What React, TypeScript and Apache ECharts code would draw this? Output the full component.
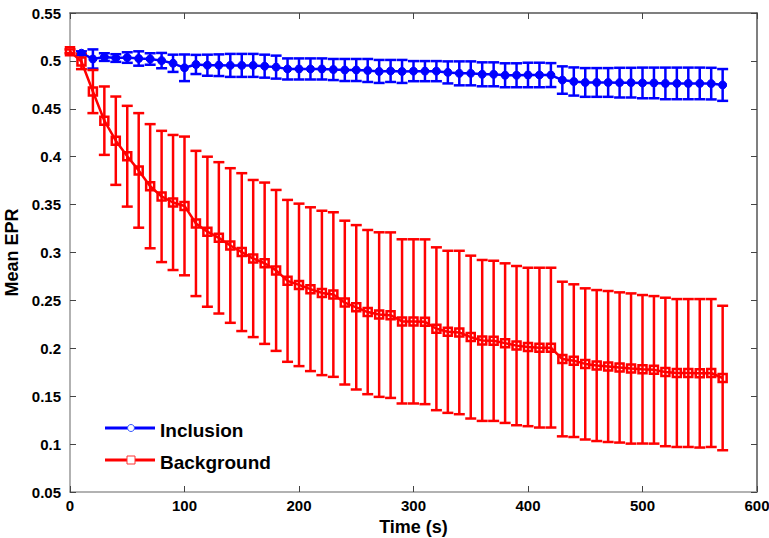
import React, { useEffect, useRef } from "react";
import * as echarts from "echarts";

const times = [0, 10, 20, 30, 40, 50, 60, 70, 80, 90, 100, 110, 120, 130, 140, 150, 160, 170, 180, 190, 200, 210, 220, 230, 240, 250, 260, 270, 280, 290, 300, 310, 320, 330, 340, 350, 360, 370, 380, 390, 400, 410, 420, 430, 440, 450, 460, 470, 480, 490, 500, 510, 520, 530, 540, 550, 560, 570];

// first Inclusion point (t = 0) is hidden under the Background marker in the source
const inclusionMean: (number | null)[] = [null, 0.508, 0.502, 0.504, 0.503, 0.5035, 0.5025, 0.502, 0.5003, 0.4975, 0.4928, 0.4963, 0.4955, 0.4955, 0.4953, 0.4953, 0.4953, 0.4945, 0.4935, 0.4916, 0.4916, 0.4916, 0.4916, 0.491, 0.4905, 0.4905, 0.490, 0.489, 0.4895, 0.489, 0.4893, 0.4893, 0.4893, 0.488, 0.487, 0.487, 0.486, 0.486, 0.485, 0.485, 0.4853, 0.4853, 0.4852, 0.480, 0.4785, 0.4775, 0.4775, 0.4775, 0.4773, 0.4773, 0.477, 0.477, 0.4765, 0.4765, 0.4765, 0.4765, 0.4763, 0.4749];
const inclusionErr = [0, 0.002, 0.010, 0.004, 0.004, 0.0055, 0.0075, 0.006, 0.008, 0.009, 0.0139, 0.010, 0.011, 0.0113, 0.012, 0.012, 0.012, 0.012, 0.012, 0.011, 0.011, 0.011, 0.011, 0.011, 0.0115, 0.0115, 0.012, 0.012, 0.0115, 0.012, 0.0105, 0.0105, 0.0105, 0.0115, 0.0125, 0.0125, 0.0125, 0.0125, 0.0125, 0.0125, 0.0128, 0.0128, 0.0125, 0.0143, 0.0147, 0.015, 0.015, 0.015, 0.0155, 0.0155, 0.016, 0.016, 0.0165, 0.0165, 0.0165, 0.0165, 0.0165, 0.0166];

const backgroundMean: (number | null)[] = [0.510, 0.4994, 0.468, 0.4376, 0.4167, 0.4005, 0.3857, 0.3692, 0.3585, 0.3522, 0.3486, 0.3303, 0.3217, 0.3153, 0.3073, 0.3004, 0.2937, 0.2888, 0.2813, 0.2704, 0.2662, 0.2617, 0.2578, 0.2561, 0.2477, 0.2428, 0.2378, 0.2352, 0.2346, 0.2281, 0.2281, 0.2277, 0.2204, 0.2172, 0.2165, 0.2117, 0.2082, 0.2078, 0.2054, 0.2028, 0.2014, 0.2007, 0.2007, 0.1888, 0.1871, 0.1837, 0.182, 0.181, 0.18, 0.1789, 0.1781, 0.1775, 0.1753, 0.1742, 0.1742, 0.1739, 0.1742, 0.169];
const backgroundErr = [0.002, 0.008, 0.0225, 0.0357, 0.0461, 0.0526, 0.0598, 0.0648, 0.0685, 0.0705, 0.0724, 0.0758, 0.0783, 0.079, 0.0807, 0.0824, 0.082, 0.0842, 0.084, 0.0845, 0.0848, 0.0855, 0.0858, 0.0859, 0.0855, 0.0858, 0.0857, 0.0859, 0.0864, 0.0857, 0.0857, 0.086, 0.085, 0.0846, 0.0853, 0.085, 0.084, 0.0836, 0.0833, 0.0831, 0.0827, 0.0834, 0.0834, 0.0807, 0.0797, 0.0789, 0.0788, 0.0788, 0.0784, 0.0784, 0.0775, 0.077, 0.0775, 0.0772, 0.0772, 0.0775, 0.0772, 0.0754];

const xTicks = [0, 100, 200, 300, 400, 500, 600];
const yTickMin = 0.05;
const yTickMax = 0.55;
const yTickStep = 0.05;

const seriesNames = ["Inclusion", "Background"];
const FONT = '"Liberation Sans", Arial, sans-serif';

function errorSeries(mean: (number | null)[], err: number[], color: string) {
  const data: number[][] = [];
  times.forEach((t, i) => {
    const m = mean[i];
    if (m === null) return;
    data.push([t, m - err[i], m + err[i]]);
  });
  return {
    type: "custom",
    data,
    encode: { x: 0, y: [1, 2] },
    renderItem: (params: any, api: any) => {
      const t = api.value(0);
      const lo = api.coord([t, api.value(1)]);
      const hi = api.coord([t, api.value(2)]);
      const half = 5.5;
      const style = { stroke: color, lineWidth: 2.5 };
      if (Math.abs(hi[1] - lo[1]) < 0.5) return { type: "group", children: [] };
      return {
        type: "group",
        children: [
          { type: "line", shape: { x1: lo[0], y1: lo[1], x2: hi[0], y2: hi[1] }, style },
          { type: "line", shape: { x1: hi[0] - half, y1: hi[1], x2: hi[0] + half, y2: hi[1] }, style },
          { type: "line", shape: { x1: lo[0] - half, y1: lo[1], x2: lo[0] + half, y2: lo[1] }, style },
        ],
      };
    },
    silent: true,
  };
}

export default function App() {
  const ref = useRef<HTMLDivElement>(null);
  useEffect(() => {
    if (!ref.current) return;
    const chart = echarts.init(ref.current, undefined, { renderer: "svg" });
    const axisLabelY = { fontFamily: FONT, fontWeight: "bold", fontSize: 15, color: "#000", margin: 9 };
    chart.setOption({
      animation: false,
      backgroundColor: "#fff",
      grid: { left: 70, right: 12, top: 13, bottom: 46, show: false, containLabel: false, outerBoundsMode: "none" },
      xAxis: [
        {
          type: "value",
          min: xTicks[0],
          max: xTicks[xTicks.length - 1],
          interval: 100,
          name: "Time (s)",
          nameLocation: "middle",
          nameGap: 25,
          nameTextStyle: { fontFamily: FONT, fontWeight: "bold", fontSize: 18, color: "#000" },
          axisLine: { show: true, onZero: false, lineStyle: { color: "#999", width: 1.5 } },
          axisTick: { show: true, inside: true, length: 6, lineStyle: { color: "#444" } },
          axisLabel: { fontFamily: FONT, fontWeight: "bold", fontSize: 15, color: "#000", margin: 6 },
          splitLine: { show: false },
        },
        {
          type: "value",
          position: "top",
          min: xTicks[0],
          max: xTicks[xTicks.length - 1],
          interval: 100,
          axisLine: { show: true, onZero: false, lineStyle: { color: "#555", width: 1.5 } },
          axisTick: { show: true, inside: true, length: 6, lineStyle: { color: "#444" } },
          axisLabel: { show: false },
          splitLine: { show: false },
        },
      ],
      yAxis: [
        {
          type: "value",
          min: yTickMin,
          max: yTickMax,
          interval: yTickStep,
          name: "Mean EPR",
          nameLocation: "middle",
          nameGap: 47,
          nameTextStyle: { fontFamily: FONT, fontWeight: "bold", fontSize: 18, color: "#000" },
          axisLine: { show: true, onZero: false, lineStyle: { color: "#999", width: 1.5 } },
          axisTick: { show: true, inside: true, length: 6, lineStyle: { color: "#444" } },
          axisLabel: { ...axisLabelY, formatter: (v: number) => String(Math.round(v * 100) / 100) },
          splitLine: { show: false },
        },
        {
          type: "value",
          position: "right",
          min: yTickMin,
          max: yTickMax,
          interval: yTickStep,
          axisLine: { show: true, onZero: false, lineStyle: { color: "#555", width: 1.5 } },
          axisTick: { show: true, inside: true, length: 6, lineStyle: { color: "#444" } },
          axisLabel: { show: false },
          splitLine: { show: false },
        },
      ],
      series: [
        errorSeries(inclusionMean, inclusionErr, "#0000ff"),
        {
          type: "line",
          name: seriesNames[0],
          data: times.map((t, i) => [t, inclusionMean[i]]).filter((d) => d[1] !== null),
          symbol: "circle",
          symbolSize: 8,
          showSymbol: true,
          lineStyle: { color: "#0000ff", width: 2.5 },
          itemStyle: { color: "#0000ff", borderColor: "#0000ff", borderWidth: 1 },
          silent: true,
        },
        errorSeries(backgroundMean, backgroundErr, "#ff0000"),
        {
          type: "line",
          name: seriesNames[1],
          data: times.map((t, i) => [t, backgroundMean[i]]),
          symbol: "rect",
          symbolSize: 8,
          showSymbol: true,
          lineStyle: { color: "#ff0000", width: 2.5 },
          itemStyle: { color: "rgba(255,255,255,0)", borderColor: "#ff0000", borderWidth: 2.5 },
          silent: true,
        },
      ],
      graphic: [
        { type: "line", shape: { x1: 105, y1: 428, x2: 155, y2: 428 }, style: { stroke: "#0000ff", lineWidth: 3 } },
        { type: "circle", shape: { cx: 131, cy: 428, r: 3.5 }, style: { fill: "#fff", stroke: "#3355ff", lineWidth: 1 } },
        { type: "text", x: 160, y: 430, style: { text: seriesNames[0], font: `bold 19px ${FONT}`, fill: "#000", verticalAlign: "middle", align: "left" } },
        { type: "line", shape: { x1: 105, y1: 460, x2: 155, y2: 460 }, style: { stroke: "#ff0000", lineWidth: 3 } },
        { type: "rect", shape: { x: 127, y: 456, width: 8, height: 8 }, style: { fill: "#fff", stroke: "#ff3333", lineWidth: 1 } },
        { type: "text", x: 160, y: 462, style: { text: seriesNames[1], font: `bold 19px ${FONT}`, fill: "#000", verticalAlign: "middle", align: "left" } },
      ],
    });
    return () => chart.dispose();
  }, []);
  return <div ref={ref} style={{ position: "fixed", left: 0, top: 0, width: 769, height: 538 }} />;
}
